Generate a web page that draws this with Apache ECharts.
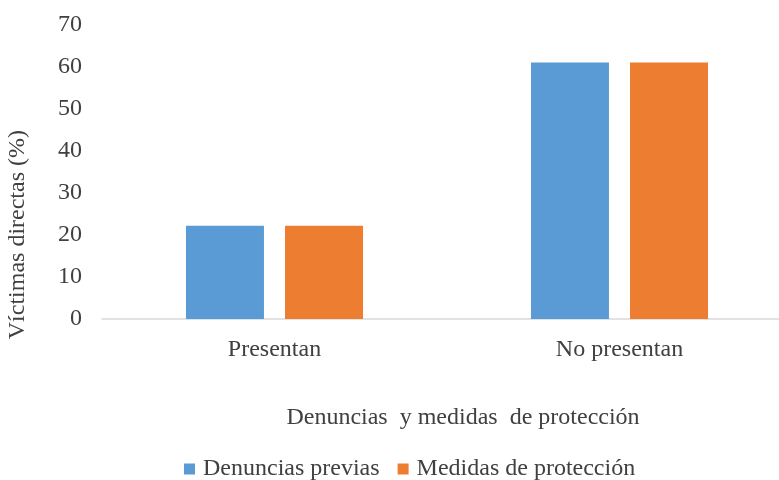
<!DOCTYPE html>
<html><head><meta charset="utf-8">
<script src="https://cdn.jsdelivr.net/npm/echarts@6/dist/echarts.min.js"></script>
<style>html,body{margin:0;padding:0;background:#fff}#c{width:779px;height:480px}</style>
</head><body><div id="c"></div>
<script>
const categories = ['Presentan', 'No presentan'];
const seriesNames = ['Denuncias previas', 'Medidas de protección'];
const denunciasPrevias = [22.2, 61.1];
const medidasProteccion = [22.2, 61.1];
const yTicks = [0, 10, 20, 30, 40, 50, 60, 70];

const font = 'Liberation Serif, Times New Roman, serif';
const fs = 24;
const txt = '#404040';
const chart = echarts.init(document.getElementById('c'), null, {renderer: 'canvas'});
chart.setOption({
  animation: false,
  textStyle: {fontFamily: font},
  grid: {left: 102, top: 25, width: 690, height: 294, containLabel: false, outerBoundsMode: 'none'},
  legend: {
    data: seriesNames, top: 457, left: 184, padding: 0,
    itemWidth: 11, itemHeight: 11, itemGap: 18, icon: 'rect',
    textStyle: {fontFamily: font, fontSize: fs, color: txt, padding: [0, 0, 0, 3]}
  },
  xAxis: {
    type: 'category', data: categories,
    name: 'Denuncias  y medidas  de protección', nameLocation: 'middle', nameGap: 87,
    nameTextStyle: {fontFamily: font, fontSize: fs, color: txt, padding: [0, 0, 0, 32]},
    axisLine: {lineStyle: {color: '#d9d9d9', width: 1.5}},
    axisTick: {show: false},
    axisLabel: {fontFamily: font, fontSize: fs, color: txt, margin: 19}
  },
  yAxis: {
    type: 'value', min: yTicks[0], max: yTicks[yTicks.length - 1], interval: 10,
    axisLine: {show: false}, axisTick: {show: false}, splitLine: {show: false},
    axisLabel: {fontFamily: font, fontSize: fs, color: txt, margin: 20, padding: [4, 0, 0, 0]}
  },
  graphic: [{
    type: 'text', left: 6, top: 130, rotation: Math.PI / 2,
    style: {text: 'Víctimas directas (%)', font: fs + 'px ' + font, fill: txt}
  }],
  series: [
    {name: seriesNames[0], type: 'bar', data: denunciasPrevias, barWidth: 78, barGap: '27%',
     itemStyle: {color: '#5B9BD5'}},
    {name: seriesNames[1], type: 'bar', data: medidasProteccion, barWidth: 78, barGap: '27%',
     itemStyle: {color: '#ED7D31'}}
  ]
});
</script></body></html>
